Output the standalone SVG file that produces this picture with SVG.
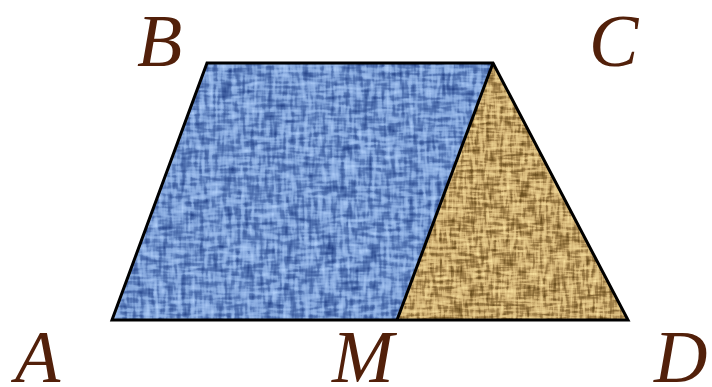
<svg xmlns="http://www.w3.org/2000/svg" width="712" height="387" viewBox="0 0 712 387">
<style>
.lbl{font-family:"Liberation Serif","DejaVu Serif",serif;font-style:italic;font-size:74px;fill:#52200a}
.edge{fill:none;stroke:#000;stroke-width:3;stroke-linejoin:miter}
</style>
<defs>
<filter id="blueTex" x="0" y="0" width="1" height="1" color-interpolation-filters="sRGB">
<feTurbulence type="fractalNoise" baseFrequency="0.22 0.05" numOctaves="2" seed="3" result="h"/>
<feTurbulence type="fractalNoise" baseFrequency="0.05 0.22" numOctaves="2" seed="8" result="v"/>
<feComposite in="h" in2="v" operator="arithmetic" k2="0.5" k3="0.5" result="n0"/>
<feGaussianBlur in="n0" stdDeviation="0.6" result="n"/>
<feColorMatrix in="n" type="matrix" values="0 0 0 0 0.16  0 0 0 0 0.28  0 0 0 0 0.55  -3.2 0 0 0 1.75" result="dark"/>
<feColorMatrix in="n" type="matrix" values="0 0 0 0 0.68  0 0 0 0 0.8  0 0 0 0 0.97  3.2 0 0 0 -1.45" result="light"/>
<feMerge result="m"><feMergeNode in="SourceGraphic"/><feMergeNode in="dark"/><feMergeNode in="light"/></feMerge>
<feComposite in="m" in2="SourceAlpha" operator="in"/>
</filter>
<filter id="tanTex" x="0" y="0" width="1" height="1" color-interpolation-filters="sRGB">
<feTurbulence type="fractalNoise" baseFrequency="0.3 0.06" numOctaves="2" seed="5" result="h"/>
<feTurbulence type="fractalNoise" baseFrequency="0.06 0.3" numOctaves="2" seed="11" result="v"/>
<feComposite in="h" in2="v" operator="arithmetic" k2="0.5" k3="0.5" result="n0"/>
<feGaussianBlur in="n0" stdDeviation="0.5" result="n"/>
<feColorMatrix in="n" type="matrix" values="0 0 0 0 0.42  0 0 0 0 0.31  0 0 0 0 0.12  -3.6 0 0 0 1.95" result="dark"/>
<feColorMatrix in="n" type="matrix" values="0 0 0 0 0.97  0 0 0 0 0.88  0 0 0 0 0.62  3.2 0 0 0 -1.45" result="light"/>
<feMerge result="m"><feMergeNode in="SourceGraphic"/><feMergeNode in="dark"/><feMergeNode in="light"/></feMerge>
<feComposite in="m" in2="SourceAlpha" operator="in"/>
</filter>
</defs>
<g id="parallelogram-ABCM">
<polygon points="112,320 207,63 493,63 397,320" fill="#7296d0" filter="url(#blueTex)"/>
</g>
<g id="triangle-MCD">
<polygon points="397,320 493,63 628,320" fill="#c6a468" filter="url(#tanTex)"/>
</g>
<g id="edges">
<polygon class="edge" points="112,320 207,63 493,63 628,320"/>
<line class="edge" x1="397" y1="320" x2="493" y2="63"/>
</g>
<g id="labels">
<text class="lbl" x="137" y="66">B</text>
<text class="lbl" x="589" y="66">C</text>
<text class="lbl" x="15" y="382">A</text>
<text class="lbl" x="332" y="382">M</text>
<text class="lbl" x="654" y="382">D</text>
</g>
</svg>
